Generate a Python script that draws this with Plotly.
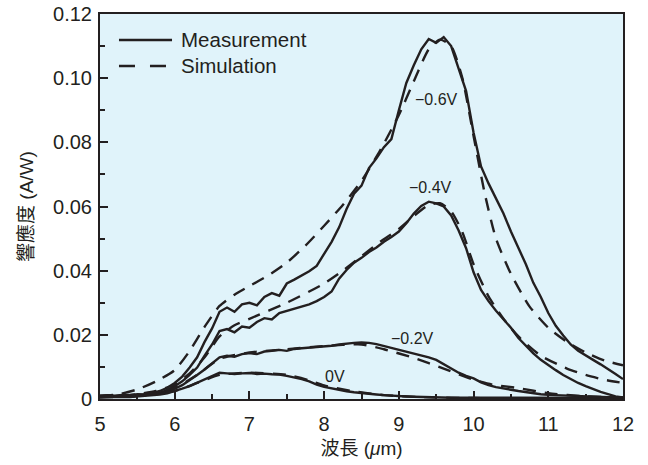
import plotly.graph_objects as go

# ---------------- data ----------------
wl = [round(5.0 + 0.1 * i, 1) for i in range(71)]  # measurement wavelength grid (um)

meas_m06 = [0.0010, 0.0012, 0.0010, 0.0013, 0.0012, 0.0015, 0.0014, 0.0018, 0.0025, 0.0035,
            0.0050, 0.0070, 0.0098, 0.0130, 0.0178, 0.0220, 0.0272, 0.0285, 0.0272, 0.0295,
            0.0300, 0.0292, 0.0318, 0.0330, 0.0322, 0.0360, 0.0372, 0.0385, 0.0398, 0.0415,
            0.0452, 0.0490, 0.0535, 0.0592, 0.0640, 0.0665, 0.0720, 0.0750, 0.0785, 0.0810,
            0.0900, 0.0985, 0.1040, 0.1090, 0.1122, 0.1110, 0.1128, 0.1100, 0.1030, 0.0960,
            0.0830, 0.0725, 0.0672, 0.0625, 0.0578, 0.0522, 0.0470, 0.0420, 0.0362, 0.0318,
            0.0268, 0.0228, 0.0198, 0.0170, 0.0150, 0.0135, 0.0122, 0.0108, 0.0094, 0.0078,
            0.0062]

meas_m04 = [0.0008, 0.0010, 0.0009, 0.0011, 0.0010, 0.0012, 0.0013, 0.0015, 0.0020, 0.0028,
            0.0040, 0.0055, 0.0075, 0.0098, 0.0135, 0.0170, 0.0212, 0.0218, 0.0208, 0.0226,
            0.0222, 0.0240, 0.0252, 0.0248, 0.0268, 0.0275, 0.0280, 0.0288, 0.0295, 0.0305,
            0.0318, 0.0335, 0.0375, 0.0402, 0.0425, 0.0440, 0.0458, 0.0472, 0.0490, 0.0505,
            0.0522, 0.0548, 0.0578, 0.0602, 0.0615, 0.0610, 0.0600, 0.0572, 0.0525, 0.0470,
            0.0395, 0.0340, 0.0305, 0.0275, 0.0248, 0.0222, 0.0190, 0.0165, 0.0142, 0.0122,
            0.0105, 0.0090, 0.0075, 0.0062, 0.0050, 0.0040, 0.0030, 0.0022, 0.0015, 0.0008,
            0.0005]

meas_m02 = [0.0006, 0.0008, 0.0007, 0.0009, 0.0008, 0.0010, 0.0011, 0.0013, 0.0017, 0.0024,
            0.0032, 0.0043, 0.0058, 0.0075, 0.0092, 0.0110, 0.0130, 0.0135, 0.0132, 0.0140,
            0.0143, 0.0140, 0.0148, 0.0150, 0.0153, 0.0150, 0.0156, 0.0158, 0.0160, 0.0161,
            0.0163, 0.0166, 0.0170, 0.0173, 0.0175, 0.0176, 0.0175, 0.0171, 0.0165, 0.0160,
            0.0154, 0.0148, 0.0143, 0.0137, 0.0130, 0.0122, 0.0108, 0.0094, 0.0082, 0.0072,
            0.0064, 0.0052, 0.0043, 0.0037, 0.0032, 0.0029, 0.0025, 0.0021, 0.0018, 0.0015,
            0.0013, 0.0012, 0.0010, 0.0009, 0.0008, 0.0008, 0.0007, 0.0006, 0.0006, 0.0005,
            0.0005]

meas_0 = [0.0005, 0.0006, 0.0005, 0.0007, 0.0006, 0.0008, 0.0009, 0.0011, 0.0014, 0.0018,
          0.0024, 0.0032, 0.0040, 0.0050, 0.0062, 0.0072, 0.0082, 0.0080, 0.0078, 0.0080,
          0.0081, 0.0078, 0.0079, 0.0077, 0.0076, 0.0072, 0.0068, 0.0062, 0.0055, 0.0045,
          0.0038, 0.0033, 0.0028, 0.0024, 0.0021, 0.0018, 0.0016, 0.0014, 0.0012, 0.0010,
          0.0009, 0.0008, 0.0007, 0.0006, 0.0005, 0.0005, 0.0004, 0.0004, 0.0004, 0.0004,
          0.0004, 0.0004, 0.0004, 0.0004, 0.0004, 0.0003, 0.0003, 0.0003, 0.0003, 0.0003,
          0.0003, 0.0003, 0.0003, 0.0003, 0.0003, 0.0003, 0.0003, 0.0003, 0.0003, 0.0003,
          0.0003]

sim_m06_x = [5.0, 5.25, 5.5, 5.75, 6.0, 6.2, 6.4, 6.6, 6.8, 7.0, 7.25, 7.5, 7.75, 8.0, 8.25,
             8.5, 8.75, 9.0, 9.2, 9.4, 9.55, 9.7, 9.85, 10.0, 10.15, 10.3, 10.5, 10.75, 11.0,
             11.25, 11.5, 11.75, 12.0]
sim_m06_y = [0.0010, 0.0015, 0.0030, 0.0055, 0.0090, 0.0150, 0.0225, 0.0290, 0.0325, 0.0352,
             0.0385, 0.0425, 0.0478, 0.0540, 0.0605, 0.0680, 0.0775, 0.0885, 0.0990, 0.1090,
             0.1120, 0.1100, 0.1000, 0.0820, 0.0640, 0.0500, 0.0390, 0.0288, 0.0222, 0.0178,
             0.0145, 0.0120, 0.0105]

sim_m04_x = [5.0, 5.5, 5.75, 6.0, 6.2, 6.4, 6.6, 6.8, 7.0, 7.5, 8.0, 8.25, 8.5, 8.75, 9.0,
             9.2, 9.4, 9.55, 9.7, 9.85, 10.0, 10.2, 10.4, 10.6, 10.9, 11.25, 11.5, 11.75, 12.0]
sim_m04_y = [0.0008, 0.0015, 0.0025, 0.0045, 0.0080, 0.0130, 0.0195, 0.0230, 0.0250, 0.0300,
             0.0360, 0.0400, 0.0445, 0.0490, 0.0530, 0.0570, 0.0605, 0.0610, 0.0585, 0.0520,
             0.0420, 0.0320, 0.0250, 0.0195, 0.0135, 0.0095, 0.0075, 0.0060, 0.0050]

sim_m02_x = [5.0, 5.5, 6.0, 6.3, 6.6, 7.0, 7.5, 8.0, 8.5, 8.8, 9.2, 9.6, 10.0, 10.25, 10.6,
             11.0, 11.5, 12.0]
sim_m02_y = [0.0006, 0.0012, 0.0035, 0.0075, 0.0125, 0.0145, 0.0155, 0.0165, 0.0170, 0.0155,
             0.0128, 0.0095, 0.0060, 0.0045, 0.0034, 0.0018, 0.0008, 0.0004]

sim_0_x = [5.0, 5.5, 6.0, 6.3, 6.6, 7.0, 7.5, 7.8, 8.0, 8.4, 8.8, 9.3, 10.0, 11.0, 12.0]
sim_0_y = [0.0005, 0.0010, 0.0025, 0.0050, 0.0075, 0.0082, 0.0075, 0.0058, 0.0042, 0.0024,
           0.0012, 0.0006, 0.0003, 0.0002, 0.0002]

bias_labels = ["\u22120.6V", "\u22120.4V", "\u22120.2V", "0V"]
label_x = [9.5, 9.42, 9.18, 8.15]
label_y = [0.0932, 0.0658, 0.0190, 0.0069]

legend_names = ["Measurement", "Simulation"]

y_ticks = [0, 0.02, 0.04, 0.06, 0.08, 0.10, 0.12]
y_ticktext = ["0", "0.02", "0.04", "0.06", "0.08", "0.10", "0.12"]
x_ticks = [5, 6, 7, 8, 9, 10, 11, 12]

# ---------------- figure ----------------
INK = "#231f20"
FONT = "Liberation Sans, Arial, Noto Sans CJK TC, sans-serif"
DASH = "13px,9px"
LW = 2.4

fig = go.Figure()

for ys in [meas_m06, meas_m04, meas_m02, meas_0]:
    fig.add_trace(go.Scatter(x=wl, y=ys, mode="lines", showlegend=False,
                             line=dict(color=INK, width=LW)))

for xs, ys in [(sim_m06_x, sim_m06_y), (sim_m04_x, sim_m04_y),
               (sim_m02_x, sim_m02_y), (sim_0_x, sim_0_y)]:
    fig.add_trace(go.Scatter(x=xs, y=ys, mode="lines", showlegend=False,
                             line=dict(color=INK, width=LW, dash=DASH, shape="spline",
                                       smoothing=0.6)))

for t, xx, yy in zip(bias_labels, label_x, label_y):
    fig.add_annotation(x=xx, y=yy, text=t, showarrow=False,
                       font=dict(size=16, color=INK, family=FONT))

# manual legend (line samples + labels) in paper coordinates
leg_rows = [(0.9325, "solid"), (0.865, "16px,15px")]
for (yy, dsh), name in zip(leg_rows, legend_names):
    x1 = 0.1377 if dsh == "solid" else 0.1262
    fig.add_shape(type="line", xref="paper", yref="paper", x0=0.0363, x1=x1, y0=yy, y1=yy,
                  line=dict(color=INK, width=2.6, dash=dsh))
    fig.add_annotation(xref="paper", yref="paper", x=0.151, y=yy, text=name,
                       showarrow=False, xanchor="left", yanchor="middle",
                       font=dict(size=20.5, color=INK, family=FONT))

axis_common = dict(
    showgrid=False, zeroline=False, showline=True, linecolor=INK, linewidth=2,
    mirror=True, ticks="inside", tickcolor=INK, tickwidth=2, ticklen=8,
    tickfont=dict(size=20, color=INK, family=FONT), automargin=False,
)

fig.update_layout(
    width=648, height=465,
    margin=dict(l=100, r=25, t=14, b=66),
    paper_bgcolor="white",
    plot_bgcolor="#e0f3fa",
    font=dict(family=FONT, color=INK),
    showlegend=False,
    xaxis=dict(range=[5, 12], tickvals=x_ticks, ticklabelstandoff=6,
               minor=dict(dtick=0.5, ticks="inside", ticklen=5, tickwidth=2, tickcolor=INK),
               title=dict(text="波長 (<i>μ</i>m)", font=dict(size=19, color=INK, family=FONT),
                          standoff=8),
               **axis_common),
    yaxis=dict(range=[0, 0.12], tickvals=y_ticks, ticktext=y_ticktext, ticklabelstandoff=2,
               minor=dict(dtick=0.01, ticks="inside", ticklen=5, tickwidth=2, tickcolor=INK),
               title=dict(text="響應度 (A/W)", font=dict(size=19, color=INK, family=FONT),
                          standoff=14),
               **axis_common),
)

fig.write_html("out.html")
